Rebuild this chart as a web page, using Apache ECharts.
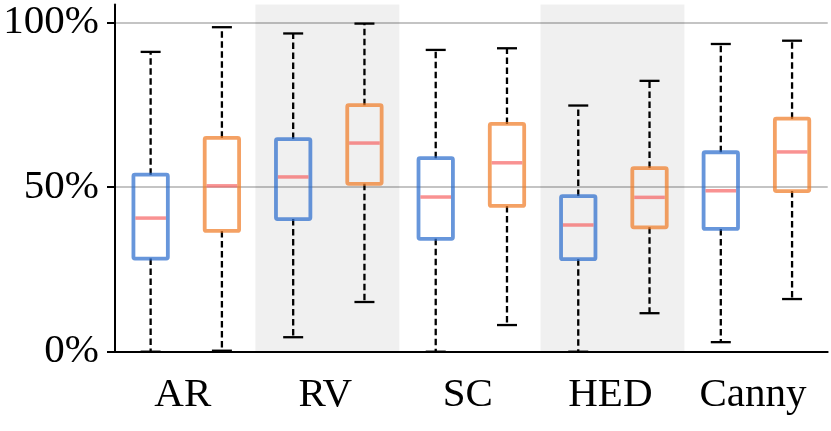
<!DOCTYPE html>
<html>
<head>
<meta charset="utf-8">
<script src="https://cdn.jsdelivr.net/npm/echarts@6/dist/echarts.min.js"></script>
<style>
  html, body { margin: 0; padding: 0; background: #fff; }
  #chart { width: 831px; height: 431px; }
</style>
</head>
<body>
<div id="chart"></div>
<script>
const categories = ['AR', 'RV', 'SC', 'HED', 'Canny'];
const shadedCategories = ['RV', 'HED'];
const yTicks = [0, 50, 100];
// each row: [min, q1, median, q3, max]
const blueBoxes = [
  [0, 28.3, 40.6, 53.8, 91.1],
  [4.4, 40.3, 53.1, 64.6, 96.7],
  [0, 34.3, 47.0, 58.8, 91.7],
  [0, 28.1, 38.5, 47.3, 74.8],
  [2.9, 37.3, 48.9, 60.6, 93.5]
];
const orangeBoxes = [
  [0.3, 36.7, 50.4, 65.0, 98.6],
  [15.1, 51.0, 63.4, 74.9, 99.7],
  [8.1, 44.3, 57.4, 69.2, 92.2],
  [11.7, 37.8, 46.9, 55.8, 82.3],
  [16.0, 48.8, 60.7, 70.8, 94.5]
];

const BLUE = 'rgba(45,110,205,0.72)';
const ORANGE = 'rgba(240,125,40,0.72)';
const MEDIAN = 'rgba(246,95,95,0.68)';

// two boxes per category, placed at 1,2 / 3,4 / ...
const boxData = [];
categories.forEach(function (c, i) {
  boxData.push([2 * i + 1].concat(blueBoxes[i], [0]));
  boxData.push([2 * i + 2].concat(orangeBoxes[i], [1]));
});

const bands = shadedCategories.map(function (c) {
  const i = categories.indexOf(c);
  return [{ xAxis: 2 * i + 0.47 }, { xAxis: 2 * i + 2.49 }];
});

function renderBox(params, api) {
  const x = api.value(0);
  const p = [1, 2, 3, 4, 5].map(function (k) { return api.coord([x, api.value(k)]); });
  const cx = p[0][0];
  const half = 17.2, capHalf = 10;
  const stroke = api.value(6) === 0 ? BLUE : ORANGE;
  const dash = { stroke: '#000', lineWidth: 2.3, lineDash: [6.5, 3.5] };
  const cap = { stroke: '#000', lineWidth: 2.3 };
  return {
    type: 'group',
    children: [
      { type: 'line', shape: { x1: cx, y1: p[3][1], x2: cx, y2: p[4][1] }, style: dash },
      { type: 'line', shape: { x1: cx, y1: p[1][1], x2: cx, y2: p[0][1] }, style: dash },
      { type: 'line', shape: { x1: cx - capHalf, y1: p[4][1], x2: cx + capHalf, y2: p[4][1] }, style: cap },
      { type: 'line', shape: { x1: cx - capHalf, y1: p[0][1], x2: cx + capHalf, y2: p[0][1] }, style: cap },
      { type: 'rect', shape: { x: cx - half, y: p[3][1], width: 2 * half, height: p[1][1] - p[3][1], r: 1.5 },
        style: { fill: 'none', stroke: stroke, lineWidth: 3.8 } },
      { type: 'line', shape: { x1: cx - half + 1.9, y1: p[2][1], x2: cx + half - 1.9, y2: p[2][1] },
        style: { stroke: MEDIAN, lineWidth: 3.5 } }
    ]
  };
}

const chart = echarts.init(document.getElementById('chart'));
chart.setOption({
  animation: false,
  backgroundColor: '#fff',
  grid: { left: 115, right: 3.3, top: 4.5, bottom: 79.3, containLabel: false, outerBoundsMode: 'none' },
  xAxis: [
    { type: 'value', min: 0.5, max: 10.5, position: 'top', show: false },
    {
      type: 'category', data: categories, position: 'bottom',
      axisLine: { lineStyle: { color: '#000', width: 2 } },
      axisTick: { show: false },
      axisLabel: {
        interval: 0, hideOverlap: false,
        color: '#000', fontFamily: 'Liberation Serif', fontSize: 41, margin: 23,
        padding: [0, 7, 0, 0]
      }
    }
  ],
  yAxis: {
    type: 'value', min: 0, max: 105.5, interval: 50,
    axisLine: { show: true, lineStyle: { color: '#000', width: 2 } },
    axisTick: { show: true, length: 8, customValues: yTicks, lineStyle: { color: '#000', width: 2 } },
    axisLabel: {
      customValues: yTicks, color: '#000', fontFamily: 'Liberation Serif', fontSize: 41, margin: 16,
      formatter: function (v) { return v + '%'; }
    },
    splitLine: { show: true, showMinLine: false, lineStyle: { color: '#b0b0b0', width: 1.5 } }
  },
  series: [{
    type: 'custom',
    xAxisIndex: 0,
    yAxisIndex: 0,
    renderItem: renderBox,
    data: boxData,
    encode: { x: 0, y: [1, 2, 3, 4, 5] },
    markArea: {
      silent: true,
      itemStyle: { color: 'rgba(0,0,0,0.058)' },
      data: bands
    }
  }]
});
</script>
</body>
</html>
